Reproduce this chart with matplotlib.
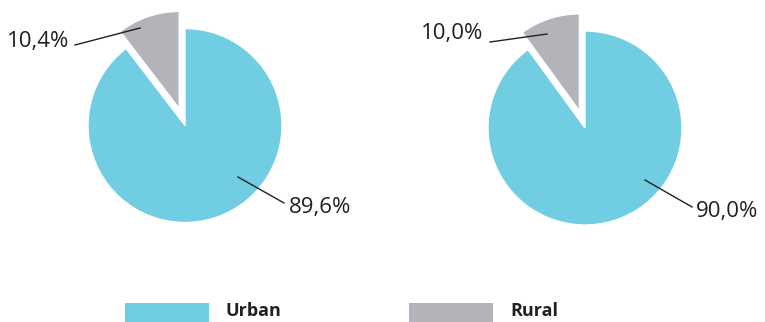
import matplotlib.pyplot as plt

# shares in percent: [Urban, Rural]
categories = ["Urban", "Rural"]
left_values = [89.6, 10.4]
right_values = [90.0, 10.0]
left_labels = ["89,6%", "10,4%"]
right_labels = ["90,0%", "10,0%"]

colors = ["#71cde1", "#b3b4b9"]
H = 322

plt.rcParams['font.family'] = ['Open Sans', 'DejaVu Sans']

fig = plt.figure(figsize=(7.65, 3.22), dpi=100)
ax = fig.add_axes([0, 0, 1, 1])


def draw_pie(values, labels, cx, cy, r, lab_pos, line_pts):
    # explode is in data units (pixels here)
    ax.pie(values, colors=colors, startangle=90, counterclock=False,
           explode=[0, 18], center=(cx, H - cy), radius=r,
           wedgeprops=dict(edgecolor="white", linewidth=1), frame=True)
    for lab, (tx, ty, ha), (p0, p1) in zip(labels, lab_pos, line_pts):
        ax.text(tx, H - ty, lab, fontsize=16, ha=ha, va="center", color="#231f20")
        ax.plot([p0[0], p1[0]], [H - p0[1], H - p1[1]], color="#231f20", lw=1)


draw_pie(left_values, left_labels, 185, 125.5, 97,
         [(289, 207, "left"), (69, 41, "right")],
         [((238, 177), (284, 203)), ((75, 45), (140, 28))])
draw_pie(right_values, right_labels, 585, 128, 97,
         [(696, 211, "left"), (483, 33, "right")],
         [((645, 180), (692, 207)), ((490, 42), (547, 34))])

# legend
for (x0, tx), name, col in zip([(125, 226), (409, 510)], categories, colors):
    ax.add_patch(plt.Rectangle((x0, H - 322), 84, 19, color=col, lw=0))
    ax.text(tx, H - 311, name, fontsize=13, fontweight="bold", va="center",
            color="#231f20")

ax.set_xlim(0, 765)
ax.set_ylim(0, H)
ax.set_aspect("equal")
ax.axis("off")

fig.savefig("out.png", dpi=100)
